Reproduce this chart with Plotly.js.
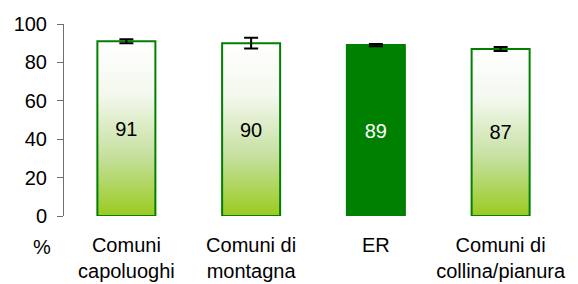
<!DOCTYPE html>
<html>
<head>
<meta charset="utf-8">
<script src="https://cdn.plot.ly/plotly-3.0.1.min.js"></script>
<style>html,body{margin:0;padding:0;background:#fff;}#chart{width:578px;height:284px;}</style>
</head>
<body>
<div id="chart"></div>
<script>
const categories = ["Comuni capoluoghi", "Comuni di montagna", "ER", "Comuni di collina/pianura"];
const tickLabels = ["Comuni<br>capoluoghi", "Comuni di<br>montagna", "ER", "Comuni di<br>collina/pianura"];
const values = [91, 90, 89, 87];
const errors = [1, 2.8, 0.6, 1];
const isRegion = [false, false, true, false];
const yTicks = [0, 20, 40, 60, 80, 100];

const FONT = "Liberation Sans, Arial, sans-serif";
const FS = 20;

const trace = {
  type: "bar",
  x: categories,
  y: values,
  text: values.map(String),
  textposition: "inside",
  insidetextanchor: "middle",
  textangle: 0,
  constraintext: "none",
  insidetextfont: {family: FONT, size: FS, color: isRegion.map(r => r ? "#ffffff" : "#000000")},
  marker: {
    color: isRegion.map(r => r ? "#008000" : "#ffffff"),
    line: {color: "#008000", width: 2}
  },
  error_y: {type: "data", array: errors, visible: true, color: "#000000", thickness: 2, width: 7},
  hoverinfo: "none"
};

const annotations = [{
  xref: "paper", yref: "paper", x: 0, y: 0,
  xanchor: "center", yanchor: "middle", xshift: -22, yshift: -31,
  text: "%", showarrow: false,
  font: {family: FONT, size: FS, color: "#000"}
}];

const layout = {
  width: 578, height: 284,
  margin: {l: 63.5, r: 14.5, t: 24, b: 68},
  paper_bgcolor: "#fff", plot_bgcolor: "#fff",
  showlegend: false,
  bargap: 0.535,
  font: {family: FONT, size: FS, color: "#000"},
  xaxis: {
    type: "category",
    tickvals: categories, ticktext: tickLabels,
    showline: false, showgrid: false, zeroline: false,
    ticks: "", ticklabelstandoff: 15,
    range: [-0.5, 3.5],
    tickfont: {family: FONT, size: FS, color: "#000"}
  },
  yaxis: {
    range: [0, 100],
    tickvals: yTicks,
    showline: true, linecolor: "#6f6f6f", linewidth: 1,
    ticks: "outside", ticklen: 6, tickcolor: "#6f6f6f", tickwidth: 1,
    ticklabelstandoff: 6,
    showgrid: false, zeroline: false,
    tickfont: {family: FONT, size: FS, color: "#000"}
  },
  annotations: annotations
};

Plotly.newPlot("chart", [trace], layout, {staticPlot: true, displayModeBar: false}).then(gd => {
  const svg = gd.querySelector("svg.main-svg");
  const NS = "http://www.w3.org/2000/svg";
  let defs = svg.querySelector("defs");
  if (!defs) { defs = document.createElementNS(NS, "defs"); svg.insertBefore(defs, svg.firstChild); }
  const g = document.createElementNS(NS, "linearGradient");
  g.setAttribute("id", "barGrad");
  g.setAttribute("x1", "0"); g.setAttribute("y1", "0");
  g.setAttribute("x2", "0"); g.setAttribute("y2", "1");
  [["0", "#ffffff"], ["0.3", "#f4f8ef"], ["0.65", "#c6e0a0"], ["1", "#9acb1f"]].forEach(([o, c]) => {
    const s = document.createElementNS(NS, "stop");
    s.setAttribute("offset", o); s.setAttribute("stop-color", c);
    g.appendChild(s);
  });
  defs.appendChild(g);
  const paths = gd.querySelectorAll(".trace.bars .point path");
  paths.forEach((p, i) => {
    if (!isRegion[i]) p.style.fill = "url(#barGrad)";
  });
});
</script>
</body>
</html>
